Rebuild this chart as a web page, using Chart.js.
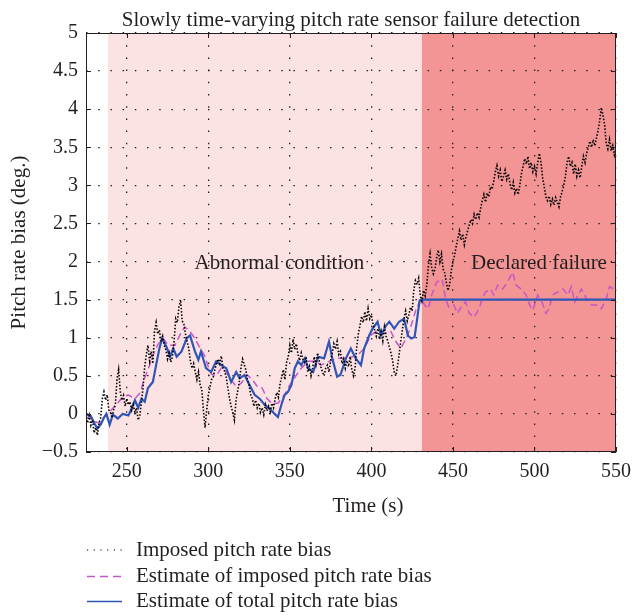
<!DOCTYPE html>
<html>
<head>
<meta charset="utf-8">
<script src="https://cdn.jsdelivr.net/npm/chart.js@4.4.1/dist/chart.umd.min.js"></script>
<style>
  html, body { margin: 0; padding: 0; background: #fff; }
</style>
</head>
<body>
<canvas id="chart" width="632" height="616"></canvas>
<script>
// imposed bias, one sample per second from t = 225 s
var imposedStart = 225;
var imposedBias = [
  0.00, -0.12, -0.02, -0.15, -0.08, -0.25, -0.18, -0.28, -0.12, -0.05,
  0.20, 0.29, 0.18, 0.25, 0.05, 0.02, -0.05, 0.06, 0.12, 0.45,
  0.58, 0.30, 0.18, 0.24, 0.10, 0.20, 0.12, 0.16, 0.05, 0.12,
  0.02, 0.08, -0.08, -0.02, 0.15, 0.35, 0.62, 0.78, 0.90, 0.70,
  0.82, 0.66, 1.08, 1.20, 1.05, 1.10, 0.95, 1.02, 0.90, 0.84,
  0.72, 0.80, 0.68, 0.75, 0.95, 1.25, 1.20, 1.40, 1.50, 1.22,
  1.18, 1.05, 0.95, 0.86, 0.70, 0.60, 0.66, 0.55, 0.45, 0.55,
  0.38, 0.32, 0.05, -0.18, 0.05, 0.25, 0.35, 0.45, 0.48, 0.58,
  0.66, 0.72, 0.66, 0.76, 0.60, 0.56, 0.48, 0.34, 0.20, 0.10,
  0.02, -0.08, 0.18, 0.30, 0.42, 0.60, 0.72, 0.65, 0.58, 0.45,
  0.38, 0.25, 0.20, 0.10, 0.18, 0.08, 0.14, 0.02, 0.08, -0.01,
  0.12, 0.04, 0.10, 0.03, 0.14, 0.08, 0.20, 0.28, 0.22, 0.40,
  0.48, 0.58, 0.45, 0.68, 0.75, 0.90, 0.80, 0.98, 0.85, 0.92,
  0.78, 0.70, 0.80, 0.72, 0.68, 0.75, 0.55, 0.62, 0.50, 0.60,
  0.75, 0.65, 0.80, 0.70, 0.62, 0.55, 0.50, 0.60, 0.64, 0.55,
  0.70, 0.80, 0.92, 0.85, 0.95, 0.78, 0.82, 0.66, 0.72, 0.60,
  0.70, 0.62, 0.75, 0.58, 0.50, 0.60, 0.88, 1.05, 1.16, 1.28,
  1.20, 1.34, 1.22, 1.38, 1.25, 1.30, 1.18, 1.10, 1.02, 1.12,
  0.98, 1.08, 0.96, 1.14, 1.02, 0.96, 0.88, 0.80, 0.70, 0.55,
  0.50, 0.62, 0.78, 0.95, 1.10, 1.25, 1.35, 1.22, 1.30, 1.40,
  1.35, 1.62, 1.75, 1.70, 1.78, 1.55, 1.48, 1.62, 1.55, 1.70,
  1.95, 2.10, 1.92, 1.84, 1.90, 2.05, 2.15, 2.00, 2.10, 1.90,
  1.85, 1.72, 1.62, 1.70, 1.88, 2.00, 2.08, 2.20, 2.30, 2.40,
  2.28, 2.36, 2.22, 2.32, 2.40, 2.48, 2.55, 2.50, 2.62, 2.55,
  2.64, 2.58, 2.70, 2.80, 2.88, 2.78, 2.90, 2.85, 2.98, 2.95,
  3.05, 3.18, 3.26, 3.12, 3.20, 3.05, 3.12, 3.20, 3.08, 3.15,
  3.02, 2.94, 3.04, 2.90, 2.96, 2.88, 3.00, 3.15, 3.25, 3.35,
  3.28, 3.38, 3.22, 3.30, 3.18, 3.25, 3.15, 3.30, 3.42, 3.30,
  3.10, 2.98, 2.85, 2.80, 2.86, 2.75, 2.82, 2.74, 2.84, 2.78,
  2.72, 2.85, 2.92, 3.00, 3.12, 3.30, 3.38, 3.25, 3.30, 3.15,
  3.28, 3.12, 3.20, 3.10, 3.25, 3.38, 3.30, 3.42, 3.50, 3.58,
  3.50, 3.60, 3.52, 3.62, 3.72, 3.85, 4.02, 3.92, 3.80, 3.55,
  3.48, 3.60, 3.45, 3.52, 3.40, 3.48
];

// estimate of imposed bias (magenta dashed)
var imposedEstTime = [225, 230, 233.4, 236.5, 239.5, 242.6, 246.7, 250.8, 255, 258,
  261, 264, 266, 269.3, 272.4, 275.4, 279.5, 283.6, 285.7, 288.8,
  291.8, 294, 297.6, 300, 302, 304.8, 308, 311, 314, 317,
  320, 324, 327, 330, 333, 336, 339, 342.7, 346.8, 350,
  354, 357, 361.2, 366, 369, 373, 379, 385.4, 391.5, 395.6,
  399.7, 403.8, 407.9, 412, 415, 418, 421.4, 424.4, 427.5, 430.7,
  432.7, 434.8, 437, 440, 443.4, 445.5, 447.5, 450.6, 452.7, 455.8,
  457.8, 460, 463, 466, 468, 470, 473, 475, 477.4, 480.5,
  483.5, 486.6, 488.7, 491.8, 494.9, 497, 499, 502, 505, 507,
  509, 511, 514.4, 517.5, 520.6, 522.6, 524.7, 526.7, 528.8, 531.9,
  535, 538, 541, 544, 546, 548.4, 550];
var imposedEstValue = [0.00, -0.10, -0.12, -0.03, 0.03, 0.10, 0.20, 0.25, 0.20, 0.27,
  0.47, 0.64, 0.77, 0.92, 0.99, 0.90, 0.90, 1.08, 1.14, 1.08,
  0.99, 0.90, 0.77, 0.62, 0.52, 0.50, 0.60, 0.55, 0.45, 0.36,
  0.40, 0.51, 0.45, 0.36, 0.34, 0.20, 0.14, 0.14, 0.25, 0.38,
  0.51, 0.60, 0.69, 0.69, 0.64, 0.68, 0.73, 0.73, 0.77, 0.86,
  1.03, 1.10, 1.06, 1.08, 0.95, 0.86, 0.99, 1.16, 1.38, 1.51,
  1.43, 1.38, 1.56, 1.73, 1.77, 1.51, 1.40, 1.43, 1.32, 1.43,
  1.47, 1.32, 1.27, 1.38, 1.51, 1.60, 1.64, 1.56, 1.69, 1.64,
  1.73, 1.86, 1.69, 1.64, 1.56, 1.43, 1.36, 1.56, 1.45, 1.32,
  1.38, 1.56, 1.60, 1.64, 1.56, 1.67, 1.47, 1.56, 1.64, 1.51,
  1.43, 1.43, 1.38, 1.51, 1.67, 1.64, 1.60];

// estimate of total bias (blue solid)
var totalEstTime = [225, 228, 230, 232, 234, 236, 237.5, 239.5, 241.5, 244.5,
  247.5, 251, 253, 255, 257, 259, 261, 263, 266, 268,
  270, 271.7, 274.4, 276.5, 278.5, 280.6, 283.6, 286.7, 288.8, 291.8,
  293.9, 295.5, 298.6, 301.7, 304.8, 307.9, 311, 314, 317.1, 319.2,
  322.2, 325.3, 328.4, 331.5, 334.5, 337.6, 340.7, 342.7, 344.8, 346.8,
  348.9, 351, 353, 355, 357, 359.2, 361.2, 364.3, 367.4, 371,
  374, 376, 379, 381, 384.4, 387.4, 390.4, 393.6, 395.6, 398.7,
  400.7, 403.8, 405.9, 409, 411, 414, 417, 420, 422.4, 424.4,
  426.5, 427.5, 429.6, 431, 550];
var totalEstValue = [0.00, -0.03, -0.12, -0.19, -0.14, -0.05, 0.00, -0.14, -0.01, -0.06,
  0.00, -0.02, 0.07, 0.18, 0.08, 0.20, 0.16, 0.34, 0.42, 0.64,
  0.86, 0.99, 0.88, 0.75, 0.86, 0.75, 0.82, 0.99, 1.03, 0.82,
  0.71, 0.82, 0.60, 0.55, 0.69, 0.64, 0.60, 0.42, 0.55, 0.47,
  0.51, 0.38, 0.25, 0.20, 0.12, 0.07, 0.00, -0.04, 0.12, 0.25,
  0.29, 0.38, 0.60, 0.69, 0.64, 0.73, 0.60, 0.55, 0.75, 0.73,
  0.95, 0.73, 0.49, 0.51, 0.73, 0.86, 0.73, 0.64, 0.86, 1.03,
  1.12, 1.21, 1.03, 1.16, 1.21, 1.12, 1.21, 1.25, 1.03, 0.99,
  1.01, 1.16, 1.49, 1.50, 1.50];

var xTicks = [250, 300, 350, 400, 450, 500, 550];
var yTicks = [-0.5, 0, 0.5, 1, 1.5, 2, 2.5, 3, 3.5, 4, 4.5, 5];

// shaded phases: abnormal condition, declared failure
var zoneStart = [238.5, 431];
var zoneEnd = [431, 550];
var zoneColor = ['#fce2e2', '#f39595'];
var notes = [
  { text: 'Abnormal condition', x: 343.6, y: 1.9 },
  { text: 'Declared failure', x: 502.8, y: 1.9 }
];

var legendLabels = ['Imposed pitch rate bias', 'Estimate of imposed pitch rate bias', 'Estimate of total pitch rate bias'];

var serif = '"Liberation Serif", "Times New Roman", serif';
var ink = '#231f20';

function pairs(xs, ys) {
  return ys.map(function (v, i) { return { x: xs[i], y: v }; });
}
var imposedPts = imposedBias.map(function (v, i) { return { x: imposedStart + i, y: v }; });

var decorPlugin = {
  id: 'decor',
  beforeDraw: function (chart) {
    var ctx = chart.ctx, a = chart.chartArea, xs = chart.scales.x;
    ctx.save();
    for (var i = 0; i < zoneStart.length; i++) {
      var x0 = xs.getPixelForValue(zoneStart[i]);
      var x1 = xs.getPixelForValue(zoneEnd[i]);
      ctx.fillStyle = zoneColor[i];
      ctx.fillRect(x0, a.top, x1 - x0, a.bottom - a.top);
    }
    ctx.restore();
  },
  afterDatasetsDraw: function (chart) {
    var ctx = chart.ctx, a = chart.chartArea, xs = chart.scales.x, ys = chart.scales.y;
    ctx.save();
    ctx.strokeStyle = ink;
    ctx.lineWidth = 1;
    ctx.strokeRect(a.left + 0.5, a.top + 0.5, a.right - a.left - 1, a.bottom - a.top - 1);
    ctx.beginPath();
    xTicks.forEach(function (v) {
      var p = Math.round(xs.getPixelForValue(v)) + 0.5;
      ctx.moveTo(p, a.bottom); ctx.lineTo(p, a.bottom - 5);
      ctx.moveTo(p, a.top); ctx.lineTo(p, a.top + 5);
    });
    yTicks.forEach(function (v) {
      var p = Math.round(ys.getPixelForValue(v)) + 0.5;
      ctx.moveTo(a.left, p); ctx.lineTo(a.left + 5, p);
      ctx.moveTo(a.right, p); ctx.lineTo(a.right - 5, p);
    });
    ctx.stroke();

    ctx.fillStyle = ink;
    ctx.textAlign = 'center';
    ctx.textBaseline = 'alphabetic';
    ctx.font = '21px ' + serif;
    notes.forEach(function (n) {
      ctx.fillText(n.text, xs.getPixelForValue(n.x), ys.getPixelForValue(n.y));
    });
    ctx.restore();
  },
  afterDraw: function (chart) {
    var ctx = chart.ctx, a = chart.chartArea;
    ctx.save();
    ctx.fillStyle = ink;
    ctx.textBaseline = 'alphabetic';
    ctx.textAlign = 'center';
    ctx.font = '21px ' + serif;
    ctx.fillText('Slowly time-varying pitch rate sensor failure detection', (a.left + a.right) / 2, 26);
    ctx.fillText('Time (s)', 368, 512);

    // legend
    var styles = chart.data.datasets;
    var lineRows = [550, 576.5, 601.5];
    var textRows = [556, 582, 607];
    ctx.textAlign = 'left';
    for (var i = 0; i < legendLabels.length; i++) {
      var d = styles[i];
      ctx.beginPath();
      ctx.strokeStyle = d.borderColor;
      ctx.lineWidth = i === 0 ? 1.2 : 1.5;
      ctx.setLineDash(i === 0 ? [1.2, 5.5] : (i === 1 ? [8, 5] : []));
      ctx.moveTo(87, lineRows[i]);
      ctx.lineTo(122, lineRows[i]);
      ctx.stroke();
      ctx.setLineDash([]);
      ctx.fillText(legendLabels[i], 136, textRows[i]);
    }
    ctx.restore();
  }
};

new Chart(document.getElementById('chart'), {
  type: 'line',
  data: {
    datasets: [{
      label: legendLabels[0],
      data: imposedPts,
      borderColor: '#000000',
      borderWidth: 1.6,
      borderDash: [1.5, 1.8],
      pointRadius: 0,
      order: 1
    }, {
      label: legendLabels[1],
      data: pairs(imposedEstTime, imposedEstValue),
      borderColor: '#c458c4',
      borderWidth: 1.5,
      borderDash: [7, 4],
      pointRadius: 0,
      order: 3
    }, {
      label: legendLabels[2],
      data: pairs(totalEstTime, totalEstValue),
      borderColor: '#2f55b5',
      borderWidth: 2.2,
      pointRadius: 0,
      order: 2
    }]
  },
  options: {
    responsive: false,
    animation: false,
    layout: { padding: { top: 33, right: 16, left: 0, bottom: 0 } },
    plugins: { legend: { display: false }, tooltip: { enabled: false } },
    elements: { line: { tension: 0 } },
    scales: {
      x: {
        type: 'linear',
        min: 225,
        max: 550,
        afterBuildTicks: function (s) { s.ticks = xTicks.map(function (v) { return { value: v }; }); },
        afterFit: function (s) { s.height = 164; s.paddingLeft = 0; s.paddingRight = 0; },
        grid: { color: '#222', lineWidth: 1.3, drawTicks: false },
        border: { display: false, dash: [1.5, 10.7] },
        ticks: { padding: 8, color: ink, font: { family: serif, size: 20 }, maxRotation: 0 },
        title: { display: false }
      },
      y: {
        min: -0.5,
        max: 5,
        afterBuildTicks: function (s) { s.ticks = yTicks.map(function (v) { return { value: v }; }); },
        afterFit: function (s) { s.width = 86; s.paddingTop = 0; s.paddingBottom = 0; },
        grid: { color: '#222', lineWidth: 1.3, drawTicks: false },
        border: { display: false, dash: [1.5, 10.7] },
        ticks: {
          padding: 8, color: ink, font: { family: serif, size: 20 },
          callback: function (v) { return v < 0 ? '\u2212' + Math.abs(v) : String(v); }
        },
        title: { display: true, text: 'Pitch rate bias (deg.)', color: ink, font: { family: serif, size: 21 }, padding: { top: 7, bottom: 0 } }
      }
    }
  },
  plugins: [decorPlugin]
});
</script>
</body>
</html>
